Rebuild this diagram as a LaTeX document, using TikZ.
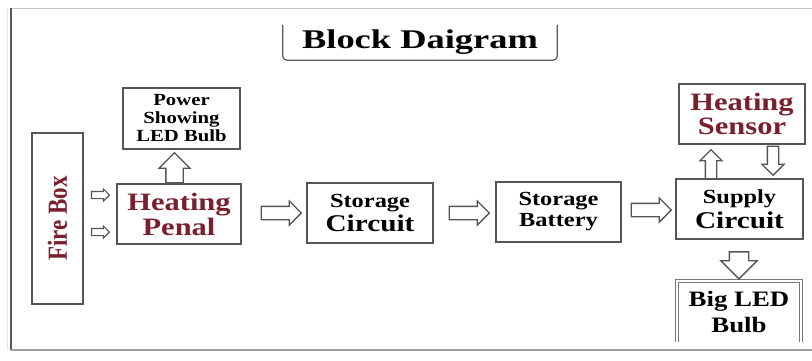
\documentclass[tikz,border=0pt]{standalone}
\usepackage{fontspec}
\setmainfont{Liberation Serif}
\newfontfamily\bodyfont[FakeStretch=1.22]{Liberation Serif}
\newfontfamily\titlefont[FakeStretch=1.35]{Liberation Serif}
\usetikzlibrary{shapes.arrows,calc}
\definecolor{dred}{HTML}{7A1F2E}
\definecolor{boxgray}{HTML}{555555}
\newcommand{\fsz}[2]{\fontsize{#1}{#2}\selectfont}
\tikzset{
  blk/.style={draw=boxgray, line width=1.5pt, fill=white, align=center, inner sep=0pt, font=\bodyfont\bfseries},
  openblk/.style={draw=none, align=center, inner sep=0pt, font=\bodyfont\bfseries},
  frameline/.style={draw=boxgray, line width=1.4pt},
  blockarrow/.style={single arrow, draw=boxgray, fill=white, inner sep=0pt, anchor=tip},
  bigh/.style={blockarrow, line width=1.3pt, inner ysep=6pt, minimum height=40pt, single arrow head extend=5.5pt},
  smallh/.style={blockarrow, line width=1.1pt, inner ysep=3pt, minimum height=18pt, single arrow head extend=2.5pt},
  vmid/.style={blockarrow, line width=1.3pt, inner ysep=5pt, minimum height=29pt, single arrow head extend=5.5pt},
  vbig/.style={blockarrow, line width=1.3pt, inner ysep=8pt, minimum height=30pt, single arrow head extend=7pt},
  vlarge/.style={blockarrow, line width=1.3pt, inner ysep=9pt, minimum height=27pt, single arrow head extend=8.5pt},
}
\begin{document}
\begin{tikzpicture}[x=1pt,y=-1pt]
\useasboundingbox (0,0) rectangle (812,360);
% outer frame
\draw[gray!45, line width=1pt] (10,8) -- (812,8);
\draw[gray!70!black, line width=2pt] (11,8) -- (11,350);
\draw[gray!35, line width=1pt, densely dotted] (7,8) -- (7,350);
\draw[gray!75, line width=2pt] (11,350) -- (812,350);

% title
\node[openblk, font=\titlefont\bfseries\fsz{27}{27}, minimum width=274pt, minimum height=35pt] (title) at (420,42.5) {Block Daigram};
\draw[frameline, gray!70!black, line width=1.2pt, rounded corners=4pt] (title.north west) -- (title.south west) -- (title.south east) -- (title.north east);

% boxes
\node[blk, minimum width=117pt, minimum height=61pt, font=\bodyfont\bfseries\fsz{17}{18}] (power) at (181.5,118.5) {Power\\Showing\\LED Bulb};
\node[blk, rotate=90, minimum width=171pt, minimum height=51pt, text=dred, font=\rmfamily\bfseries\fsz{23}{23}] (firebox) at (57.5,218.5) {\scalebox{1}[1.2]{Fire Box}};
\node[blk, minimum width=124pt, minimum height=60pt, text=dred, font=\bodyfont\bfseries\fsz{25}{25}] (penal) at (179,214) {Heating\\Penal};
\node[blk, minimum width=126pt, minimum height=60pt, font=\bodyfont\bfseries\fsz{24}{24}] (stcirc) at (370,213) {\fsz{20}{24}Storage\\\fsz{24}{24}Circuit};
\node[blk, minimum width=125pt, minimum height=60pt, font=\bodyfont\bfseries\fsz{20}{21}] (stbatt) at (558.5,212) {Storage\\Battery};
\node[blk, minimum width=127pt, minimum height=60pt, font=\bodyfont\bfseries\fsz{24}{25}] (supply) at (739.5,209) {\fsz{20}{25}Supply\\\fsz{24}{25}Circuit};
\node[blk, minimum width=126pt, minimum height=60pt, text=dred, font=\bodyfont\bfseries\fsz{25}{24}] (sensor) at (742,114) {Heating\\Sensor};
\node[openblk, minimum width=124pt, minimum height=61pt, font=\bodyfont\bfseries\fsz{22}{26}] (bigled) at (739,311.5) {Big LED\\Bulb};
\draw[boxgray!80, line width=1.2pt, double=white, double distance=2pt] (bigled.south west) -- (bigled.north west) -- (bigled.north east) -- (bigled.south east);

% block arrows
\node[smallh] (f1) at ([xshift=-6pt,yshift=19pt]penal.west) {};
\node[smallh] (f2) at ([xshift=-6pt,yshift=-18pt]penal.west) {};
\node[vbig, rotate=90] (pu) at ([xshift=-7pt,yshift=-2pt]power.south) {};
\node[bigh] (a1) at ([xshift=-4pt]stcirc.west) {};
\node[bigh] (a2) at ([xshift=-5pt,yshift=-1pt]stbatt.west) {};
\node[bigh] (a3) at ([xshift=-3pt,yshift=-1pt]supply.west) {};
\node[vmid, rotate=90] (su) at ([xshift=-31pt,yshift=-4pt]sensor.south) {};
\node[vmid, rotate=-90] (sd) at ([xshift=33.5pt,yshift=2pt]supply.north) {};
\node[vlarge, rotate=-90] (bd) at ([yshift=1pt]bigled.north) {};
\end{tikzpicture}
\end{document}
